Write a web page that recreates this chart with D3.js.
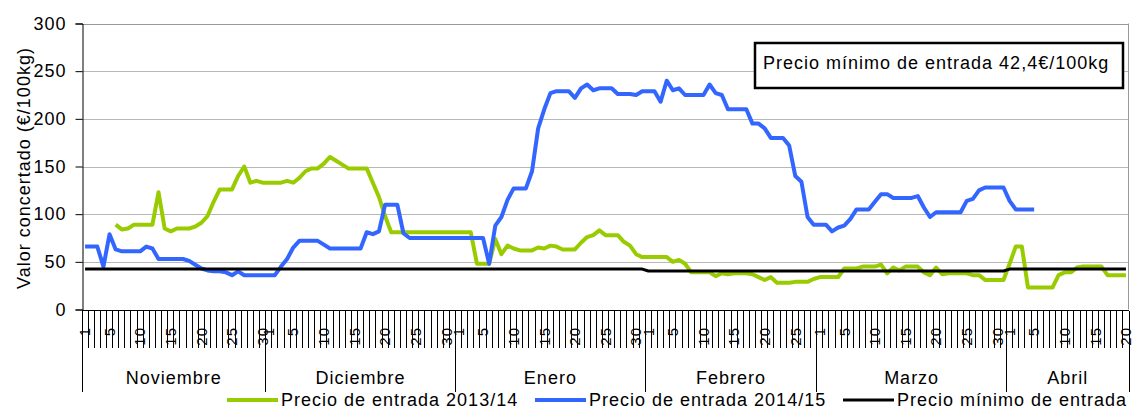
<!DOCTYPE html>
<html lang="es">
<head>
<meta charset="UTF-8">
<title>Precio de entrada</title>
<script src="https://d3js.org/d3.v7.min.js"></script>
<style>
    body {
        margin: 0;
        background-color: white;
    }
    svg {
        font-family: "Liberation Sans", Arial, sans-serif;
    }
    .label {
        font-size: 18px;
        letter-spacing: 1px;
        fill: #000;
    }
    .day {
        font-size: 15px;
        letter-spacing: 1px;
        fill: #000;
    }
</style>
</head>
<body>
<script>
    // Categories
    const months = ["Noviembre", "Diciembre", "Enero", "Febrero", "Marzo", "Abril"];
    const monthDays = [30, 31, 31, 28, 31, 20];
    const dayLabels = [1, 5, 10, 15, 20, 25, 30];
    const yTicks = [0, 50, 100, 150, 200, 250, 300];

    // Precio mínimo de entrada, one value per month
    const minimo = [42.4, 42.4, 42.4, 40.4, 40.4, 42.4];

    // Precio de entrada 2013/14, one value per day (Nov 1 .. Apr 20)
    const precio1314 = [
        // Noviembre
        null, null, null, null, null, 89, 84, 85, 89, 89, 89, 89, 123, 85, 82, 85, 85, 85, 87, 91,
        98, 113, 126, 126, 126, 140, 150, 133, 135, 133,
        // Diciembre
        133, 133, 133, 135, 133, 138, 145, 148, 148, 153, 160, 156, 152, 148, 148, 148, 148, 133, 118, 98,
        81, 81, 81, 81, 81, 81, 81, 81, 81, 81, 81,
        // Enero
        81, 81, 81, 48, 48, 48, 74, 58, 67, 64, 62, 62, 62, 65, 64, 67, 66, 63, 63, 63,
        70, 76, 78, 83, 78, 78, 78, 71, 67, 58, 55,
        // Febrero
        55, 55, 55, 55, 50, 52, 48, 39, 39, 39, 39, 35, 38, 37, 38, 38, 38, 37, 34, 31,
        34, 28, 28, 28, 29, 29, 29, 32,
        // Marzo
        34, 34, 34, 34, 43, 43, 43, 45, 45, 45, 47, 38, 44, 41, 45, 45, 45, 39, 36, 44,
        37, 38, 38, 38, 38, 36, 36, 31, 31, 31, 31,
        // Abril
        48, 66, 66, 23, 23, 23, 23, 23, 36, 39, 39, 44, 45, 45, 45, 45, 36, 36, 36, 36
    ];

    // Precio de entrada 2014/15, one value per day (Nov 1 .. Apr 20)
    const precio1415 = [
        // Noviembre
        66, 66, 66, 45, 79, 63, 61, 61, 61, 61, 66, 64, 53, 53, 53, 53, 53, 51, 47, 43,
        41, 40, 40, 39, 36, 40, 36, 36, 36, 36,
        // Diciembre
        36, 36, 45, 53, 65, 72, 72, 72, 72, 68, 64, 64, 64, 64, 64, 64, 81, 79, 82, 110,
        110, 110, 80, 75, 75, 75, 75, 75, 75, 75, 75,
        // Enero
        75, 75, 75, 75, 75, 48, 88, 97, 115, 127, 127, 127, 145, 190, 210, 227, 229, 229, 229, 222,
        232, 236, 230, 232, 232, 232, 226, 226, 226, 225, 229,
        // Febrero
        229, 229, 218, 240, 230, 232, 225, 225, 225, 225, 236, 227, 225, 210, 210, 210, 210, 195, 195, 190,
        180, 180, 180, 172, 140, 134, 97, 89,
        // Marzo
        89, 89, 82, 86, 88, 95, 105, 105, 105, 113, 121, 121, 117, 117, 117, 117, 119, 107, 97, 102,
        102, 102, 102, 102, 114, 116, 125, 128, 128, 128, 128,
        // Abril
        114, 105, 105, 105, 105, null, null, null, null, null, null, null, null, null, null, null, null, null, null, null
    ];

    const seriesNames = ["Precio de entrada 2013/14", "Precio de entrada 2014/15", "Precio mínimo de entrada"];
    const seriesColors = ["#99cc00", "#3366ff", "#000000"];
    const noteText = "Precio mínimo de entrada 42,4€/100kg";

    const width = 1136;
    const height = 410;
    const margin = {top: 23, right: 7, bottom: 100, left: 82};

    // one entry per day
    const days = [];
    months.forEach((m, mi) => {
        d3.range(1, monthDays[mi] + 1).forEach(d => days.push({month: mi, day: d}));
    });
    const minimoDaily = days.map(d => minimo[d.month]);

    const svg = d3.select("body").append("svg")
        .attr("width", width)
        .attr("height", height);

    const x = d3.scaleBand()
        .domain(d3.range(days.length))
        .range([margin.left, width - margin.right]);

    const y = d3.scaleLinear()
        .domain([0, 300])
        .range([height - margin.bottom - 0.5, margin.top + 0.5]);

    const bw = x.bandwidth();
    const x0 = margin.left, x1 = width - margin.right;

    // gridlines
    svg.append("g")
        .selectAll("line")
        .data(yTicks.filter(v => v > 0))
        .join("line")
        .attr("x1", x0).attr("x2", x1)
        .attr("y1", d => Math.round(y(d)) + 0.5)
        .attr("y2", d => Math.round(y(d)) + 0.5)
        .attr("stroke", d => d === 300 ? "#999" : "#b8b8b8")
        .attr("stroke-width", 1);

    svg.append("line")
        .attr("x1", x1 - 0.5).attr("x2", x1 - 0.5)
        .attr("y1", y(300)).attr("y2", y(0))
        .attr("stroke", "#999");

    // y axis
    const yAxis = svg.append("g")
        .attr("transform", "translate(" + (x0 + 0.5) + ",0)")
        .call(d3.axisLeft(y).tickValues(yTicks).tickSize(7).tickPadding(9));
    yAxis.select(".domain").attr("stroke", "#000");
    yAxis.selectAll(".tick line").attr("stroke", "#000");
    yAxis.selectAll(".tick text")
        .attr("class", "label")
        .attr("font-family", null)
        .attr("font-size", null);

    svg.append("text")
        .attr("class", "label")
        .attr("text-anchor", "middle")
        .attr("transform", "translate(30,168)rotate(-90)")
        .text("Valor concertado (€/100kg)");

    // x axis
    const axisY = Math.round(y(0)) + 0.5;
    svg.append("line")
        .attr("x1", x0).attr("x2", x1)
        .attr("y1", axisY).attr("y2", axisY)
        .attr("stroke", "#000");

    const monthStarts = d3.cumsum([0].concat(monthDays));
    const boundaries = d3.range(days.length + 1);

    svg.append("g")
        .selectAll("line")
        .data(boundaries)
        .join("line")
        .attr("x1", i => (i < days.length ? x(i) : x1))
        .attr("x2", i => (i < days.length ? x(i) : x1))
        .attr("y1", axisY)
        .attr("y2", i => monthStarts.includes(i) ? 392 : 348)
        .attr("stroke", "#000")
        .attr("stroke-width", 1)
        .attr("shape-rendering", "crispEdges");

    svg.append("g")
        .selectAll("text")
        .data(days.map((d, i) => ({...d, i})).filter(d => dayLabels.includes(d.day)))
        .join("text")
        .attr("class", "day")
        .attr("text-anchor", "end")
        .attr("dy", "0.35em")
        .attr("transform", d => "translate(" + (x(d.i) + bw / 2) + ",327)rotate(-90)")
        .text(d => d.day);

    svg.append("g")
        .selectAll("text")
        .data(months)
        .join("text")
        .attr("class", "label")
        .attr("text-anchor", "middle")
        .attr("x", (m, i) => (x(monthStarts[i]) + (monthStarts[i + 1] < days.length ? x(monthStarts[i + 1]) : x1)) / 2)
        .attr("y", 384)
        .text(m => m);

    // series
    const line = d3.line()
        .defined(d => d != null)
        .x((d, i) => x(i) + bw / 2)
        .y(d => y(d));

    [precio1314, precio1415, minimoDaily].forEach((s, k) => {
        svg.append("path")
            .datum(s)
            .attr("fill", "none")
            .attr("stroke", seriesColors[k])
            .attr("stroke-width", k === 2 ? 3 : 4)
            .attr("stroke-linejoin", "round")
            .attr("d", line);
    });

    // note box
    svg.append("rect")
        .attr("x", 755).attr("y", 43)
        .attr("width", 368).attr("height", 45)
        .attr("fill", "#fff")
        .attr("stroke", "#000")
        .attr("stroke-width", 2.5);
    svg.append("text")
        .attr("class", "label")
        .attr("x", 763).attr("y", 69)
        .text(noteText);

    // legend
    const legendX = [227, 535, 843];
    const legend = svg.append("g")
        .selectAll("g")
        .data(seriesNames)
        .join("g")
        .attr("transform", (d, i) => "translate(" + legendX[i] + ",400)");
    legend.append("line")
        .attr("x1", 0).attr("x2", 51)
        .attr("stroke", (d, i) => seriesColors[i])
        .attr("stroke-width", (d, i) => i === 2 ? 3 : 4);
    legend.append("text")
        .attr("class", "label")
        .attr("x", 54).attr("y", 6)
        .text(d => d);
</script>
</body>
</html>
